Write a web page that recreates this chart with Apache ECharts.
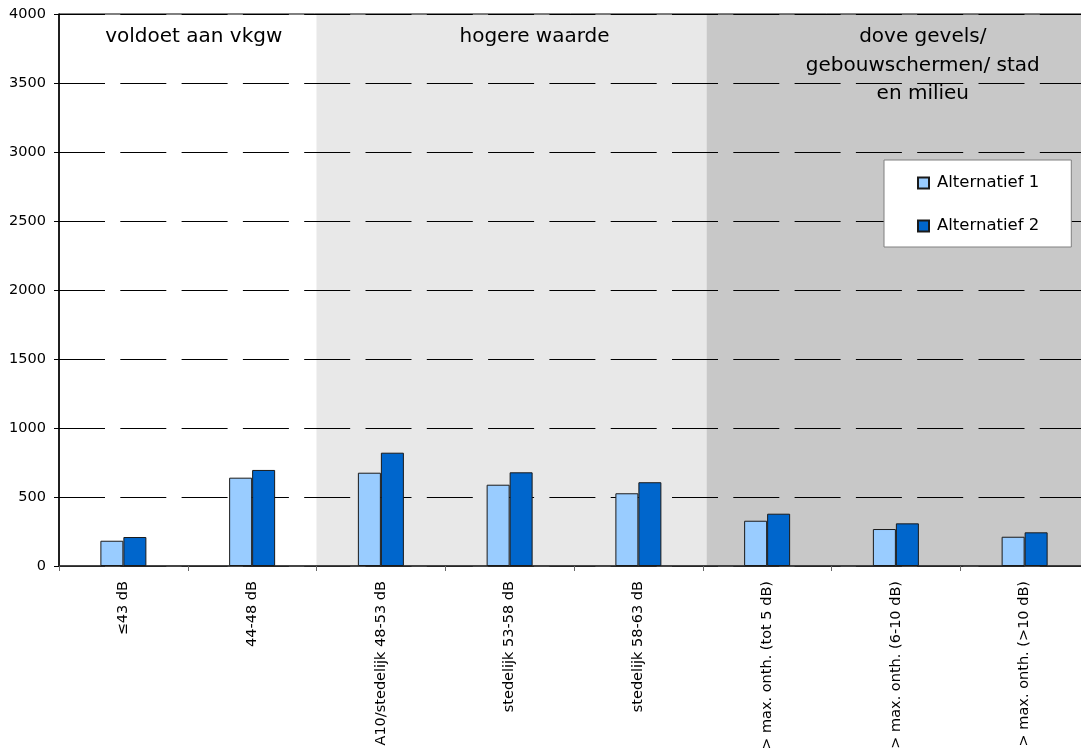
<!DOCTYPE html>
<html>
<head>
<meta charset="utf-8">
<title>Alternatief 1 en 2 per geluidsklasse</title>
<script src="https://cdn.jsdelivr.net/npm/echarts@6/dist/echarts.min.js"></script>
<style>
  html, body { margin: 0; padding: 0; background: #ffffff; }
  #chart { width: 1081px; height: 748px; }
</style>
</head>
<body>
<div id="chart"></div>
<script>
// Geluidsklassen (categorieën op de x-as)
const categories = [
  '≤43 dB',
  '44-48 dB',
  'A10/stedelijk 48-53 dB',
  'stedelijk 53-58 dB',
  'stedelijk 58-63 dB',
  '> max. onth. (tot 5 dB)',
  '> max. onth. (6-10 dB)',
  '> max. onth. (>10 dB)'
];

// Aantallen per alternatief
const alternatief1 = [183, 640, 676, 589, 527, 328, 268, 212];
const alternatief2 = [210, 696, 821, 679, 607, 379, 309, 244];

// Y-as schaal
const yMin = 0;
const yMax = 4000;
const yStep = 500;

// Achtergrondzones, in categorie-eenheden (0 = begin eerste categorie)
const zoneNames = ['voldoet aan vkgw', 'hogere waarde', 'dove gevels/\ngebouwschermen/ stad\nen milieu'];
const zoneStart = [0, 2, 5.03];
const zoneEnd = [2, 5.03, 8];

// Opmaak van de zones
const zoneColors = ['#ffffff', '#e8e8e8', '#c8c8c8'];
const zoneTitleShift = [6, 23, 25];

const FONT = 'DejaVu Sans';

const chart = echarts.init(document.getElementById('chart'), null, { renderer: 'canvas' });

const zoneAreas = zoneNames.map((name, i) => [
  {
    xAxis: zoneStart[i],
    yAxis: yMax,
    itemStyle: { color: zoneColors[i] },
    label: {
      show: true,
      formatter: name,
      position: 'insideTop',
      distance: 9,
      offset: [zoneTitleShift[i], 0],
      color: '#000',
      fontFamily: FONT,
      fontSize: 20,
      lineHeight: 28.5,
      align: 'center'
    }
  },
  { xAxis: zoneEnd[i], yAxis: yMin }
]);

const barStyle = (color) => ({
  color: color,
  borderColor: '#1a1a1a',
  borderWidth: 1
});

chart.setOption({
  animation: false,
  backgroundColor: '#ffffff',
  grid: {
    left: 59,
    top: 14,
    width: 1030,
    height: 552,
    containLabel: false,
    outerBoundsMode: 'none',
    show: true,
    borderColor: '#000',
    borderWidth: 1,
    backgroundColor: 'transparent'
  },
  legend: {
    orient: 'vertical',
    left: 884,
    top: 160,
    data: ['Alternatief 1', 'Alternatief 2'],
    backgroundColor: '#ffffff',
    borderColor: '#808080',
    borderWidth: 1,
    padding: [13, 32, 11, 33],
    itemWidth: 11,
    itemHeight: 11,
    itemGap: 23,
    icon: 'rect',
    textStyle: {
      fontFamily: FONT,
      fontSize: 16.5,
      lineHeight: 20,
      color: '#000',
      padding: [0, 0, 0, 3]
    }
  },
  xAxis: [
    {
      type: 'category',
      data: categories,
      boundaryGap: true,
      axisLine: { show: true, lineStyle: { color: '#333', width: 1.5 } },
      axisTick: { show: true, length: 5, lineStyle: { color: '#666' } },
      axisLabel: {
        rotate: 90,
        margin: 15,
        interval: 0,
        fontFamily: FONT,
        fontSize: 14.5,
        color: '#000'
      },
      splitLine: { show: false }
    },
    {
      type: 'value',
      min: 0,
      max: categories.length,
      show: false
    }
  ],
  yAxis: {
    type: 'value',
    min: yMin,
    max: yMax,
    interval: yStep,
    axisLine: { show: true, lineStyle: { color: '#000', width: 1.5 } },
    axisTick: { show: true, length: 5, lineStyle: { color: '#000' } },
    axisLabel: {
      margin: 13,
      fontFamily: FONT,
      fontSize: 14.5,
      color: '#000',
      formatter: (v) => String(v)
    },
    splitLine: {
      show: true,
      lineStyle: { color: '#000', width: 1, type: [46, 15.3] }
    }
  },
  series: [
    {
      name: 'zones',
      type: 'line',
      xAxisIndex: 1,
      data: [],
      z: -2,
      silent: true,
      markArea: {
        silent: true,
        z: -2,
        data: zoneAreas
      }
    },
    {
      name: 'Alternatief 1',
      type: 'bar',
      data: alternatief1,
      barWidth: 23,
      barGap: '0%',
      itemStyle: barStyle('#99ccff')
    },
    {
      name: 'Alternatief 2',
      type: 'bar',
      data: alternatief2,
      barWidth: 23,
      barGap: '0%',
      itemStyle: barStyle('#0066cc')
    }
  ]
});
</script>
</body>
</html>
